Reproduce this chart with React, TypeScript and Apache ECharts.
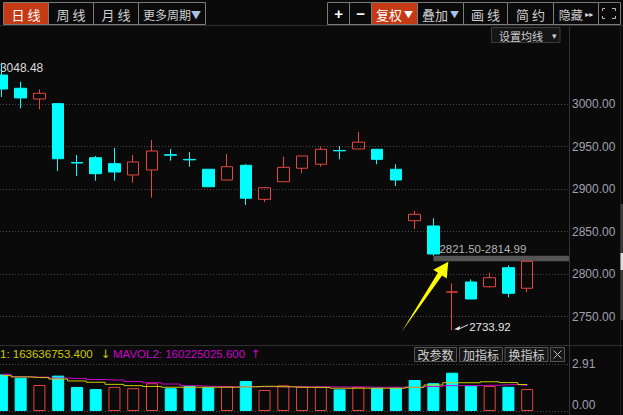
import React, { useEffect, useRef } from "react";
import * as echarts from "echarts";

// ---------- data ----------
const opens = [3034.1, 3018.5, 3005.9, 3000.4, 2931.2, 2936.8, 2929.8, 2916.5, 2922.4, 2940.3, 2934.8, 2923.2, 2910.6, 2927.9, 2887.9, 2908.6, 2924.4, 2929.1, 2945.3, 2947.1, 2946.7, 2923.2, 2862.7, 2856.5, 2778.6, 2790.6, 2785.0, 2807.4, 2783.2];
const closes = [3017.6, 3007.1, 3012.6, 2935.6, 2930.6, 2918.0, 2920.0, 2931.8, 2944.7, 2939.8, 2934.3, 2902.7, 2926.2, 2889.1, 2901.5, 2925.5, 2938.8, 2946.7, 2944.9, 2955.1, 2934.9, 2910.6, 2870.2, 2823.5, 2779.0, 2770.6, 2795.6, 2777.3, 2814.99];
const lows = [3008.2, 2994.9, 2993.8, 2921.2, 2915.3, 2909.8, 2909.8, 2907.4, 2889.8, 2933.3, 2926.2, 2902.5, 2910.2, 2881.2, 2884.7, 2908.3, 2918.5, 2926.2, 2934.9, 2946.8, 2929.1, 2903.5, 2852.9, 2821.5, 2733.92, 2770.4, 2784.0, 2772.6, 2778.5];
const highs = [3048.48, 3026.2, 3017.3, 3000.9, 2940.0, 2938.8, 2948.2, 2940.0, 2957.6, 2947.1, 2943.5, 2923.5, 2941.2, 2929.1, 2902.0, 2938.0, 2939.2, 2949.8, 2950.6, 2967.1, 2947.0, 2929.1, 2874.1, 2865.5, 2789.0, 2793.8, 2801.5, 2810.2, 2814.99];
// volume in 亿 (1e8)
const volumes = [2.27, 2.06, 1.61, 2.19, 1.49, 1.36, 1.49, 1.41, 1.72, 1.41, 1.55, 1.47, 1.55, 1.86, 1.30, 1.59, 1.50, 1.50, 1.34, 1.50, 1.44, 1.44, 1.92, 1.72, 2.37, 1.57, 1.55, 1.50, 1.36];
const mavol1 = [2.19, 2.11, 2.07, 1.98, 1.86, 1.78, 1.65, 1.57, 1.52, 1.47, 1.47, 1.47, 1.47, 1.50, 1.53, 1.50, 1.47, 1.46, 1.41, 1.41, 1.41, 1.41, 1.47, 1.61, 1.75, 1.75, 1.81, 1.76, 1.64];
const mavol2 = [2.27, 2.12, 2.10, 2.04, 2.01, 1.95, 1.92, 1.83, 1.75, 1.67, 1.57, 1.53, 1.50, 1.50, 1.50, 1.50, 1.50, 1.50, 1.49, 1.49, 1.47, 1.47, 1.46, 1.52, 1.57, 1.57, 1.59, 1.63, 1.60];
const mavolHeader = [163636753.4, 160225025.6];
const slots = ["s0", "s1", "s2", "s3", "s4", "s5", "s6", "s7", "s8", "s9", "s10", "s11", "s12", "s13", "s14", "s15", "s16", "s17", "s18", "s19", "s20", "s21", "s22", "s23", "s24", "s25", "s26", "s27", "s28", "s29", "s30"];
const priceMin = 2700;
const priceMax = 3050;
const priceStep = 50;
const volMax = 2.91;
const gapRange = [2821.5, 2814.99];
const gapStartIndex = 23;
const leftButtons = ["日 线", "周 线", "月 线", "更多周期"];
const rightButtons = ["+", "−", "复权", "叠加", "画 线", "简 约", "隐藏"];
const indicatorButtons = ["改参数", "加指标", "换指标"];

// ---------- layout / style ----------
const W = 623;
const H = 415;
const STEP = 18.76;
const X0 = 1.9;
const AXIS_X = 569;
const PRICE_TOP = 61.5;
const PRICE_H = 297.5;
const BG = "#0a0a0a";
const UP = "#e5463f";
const DOWN = "#00ffff";
const FONT_CJK = '"Noto Sans CJK SC", "Noto Sans", sans-serif';
const FONT_NUM = '"Liberation Sans", Arial, sans-serif';
const LABEL_C = "#a0a0b0";

function buildGraphic() {
  const g: any[] = [];
  const rect = (x: number, y: number, w: number, h: number, fill: string, stroke: string) =>
    g.push({ type: "rect", z: 100, shape: { x, y, width: w, height: h }, style: { fill, stroke, lineWidth: 1 } });
  const line = (x1: number, y1: number, x2: number, y2: number, stroke: string) =>
    g.push({ type: "line", z: 100, shape: { x1, y1, x2, y2 }, style: { stroke, lineWidth: 1 } });
  const text = (x: number, y: number, t: string, fill: string, size: number, family: string, align = "center", extra: any = {}) =>
    g.push({ type: "text", z: 101, x, y, style: { text: t, fill, fontSize: size, fontFamily: family, align, verticalAlign: "middle", ...extra } });

  // frame lines
  line(0, 25.5, W, 25.5, "#2e2e2e");
  line(AXIS_X + 0.5, 26, AXIS_X + 0.5, H, "#333333");
  line(620.5, 26, 620.5, H, "#1e1e1e");
  line(0, 345.5, W, 345.5, "#2e2e2e");
  rect(620.5, 204, 3, 116, "#3a3a3a", "none");
  rect(620.5, 253, 3, 17, "#dddddd", "none");

  // left toolbar
  const lx = [3.5, 48.5, 93.5, 138.5, 205.5];
  leftButtons.forEach((b, i) => {
    const x = lx[i];
    const w = lx[i + 1] - x;
    const active = i === 0;
    rect(x, 2.5, w, 22, active ? "#c43a14" : BG, "#7b7b7b");
    if (i === 3) {
      g.push({
        type: "text", z: 101, x: x + w / 2, y: 14,
        style: {
          text: "{a|" + b + "}{b|▼}", align: "center", verticalAlign: "middle",
          rich: { a: { fontSize: 12, fill: "#cfcfcf", fontFamily: FONT_CJK }, b: { fontSize: 10, fill: "#a9c1e8", fontFamily: FONT_CJK } },
        },
      });
    } else {
      text(x + w / 2, 14, b, active ? "#ffffff" : "#cfcfcf", 13, FONT_CJK);
    }
  });

  // right toolbar
  const rx = [327.5, 349.5, 371.5, 417.5, 463.5, 507.5, 553.5, 598.5, 620.5];
  rightButtons.forEach((b, i) => {
    const x = rx[i];
    const w = rx[i + 1] - x;
    const active = i === 2;
    rect(x, 2.5, w, 22, active ? "#c43a14" : BG, "#7b7b7b");
    if (i === 0 || i === 1) {
      text(x + w / 2, 13.5, b, "#ffffff", 15, FONT_NUM, "center", { fontWeight: "bold" });
    } else if (i === 2 || i === 3) {
      g.push({
        type: "text", z: 101, x: x + w / 2, y: 14,
        style: {
          text: "{a|" + b + "}{b| ▼}", align: "center", verticalAlign: "middle",
          rich: { a: { fontSize: 13, fill: active ? "#ffffff" : "#cfcfcf", fontFamily: FONT_CJK }, b: { fontSize: 9, fill: active ? "#ffffff" : "#a9c1e8", fontFamily: FONT_CJK } },
        },
      });
    } else if (i === 6) {
      g.push({
        type: "text", z: 101, x: x + w / 2, y: 14,
        style: {
          text: "{a|" + b + "}{b| ▸▸}", align: "center", verticalAlign: "middle",
          rich: { a: { fontSize: 12, fill: "#cfcfcf", fontFamily: FONT_CJK }, b: { fontSize: 8, fill: "#dcdcdc", fontFamily: '"DejaVu Sans", sans-serif' } },
        },
      });
    } else {
      text(x + w / 2, 14, b, "#cfcfcf", 13, FONT_CJK);
    }
  });
  // fullscreen icon
  rect(598.5, 2.5, 22, 22, BG, "#7b7b7b");
  const corners = [
    [[602.5, 11], [602.5, 8.5], [605, 8.5]],
    [[612, 8.5], [615.5, 8.5], [615.5, 11]],
    [[602.5, 16], [602.5, 18.5], [605, 18.5]],
    [[612, 18.5], [615.5, 18.5], [615.5, 16]],
  ];
  corners.forEach((pts) => g.push({ type: "polyline", z: 101, shape: { points: pts }, style: { stroke: "#bdbdbd", lineWidth: 1, fill: "none" } }));

  // 设置均线
  rect(491.5, 27.5, 68.5, 15, "#151515", "#3c3c3c");
  text(499, 35.5, "设置均线", "#cfcfcf", 11, FONT_CJK, "left");
  text(554, 35, "▾", "#cfcfcf", 9, FONT_CJK, "center");

  // volume header
  text(0, 353.5, "1: " + mavolHeader[0].toFixed(3), "#cccc00", 11.5, FONT_NUM, "left");
  text(101, 353.5, "↓", "#cccc00", 11.5, '"DejaVu Sans", sans-serif', "left");
  text(113, 353.5, "MAVOL2: " + mavolHeader[1].toFixed(3), "#cc00cc", 11.5, FONT_NUM, "left");
  text(251, 353.5, "↑", "#cc00cc", 11.5, '"DejaVu Sans", sans-serif', "left");

  // indicator buttons
  const ix = [414.5, 459.5, 505];
  const iw = [42, 43, 43];
  indicatorButtons.forEach((b, i) => {
    rect(ix[i], 347.5, iw[i], 14, "#161616", "#555555");
    text(ix[i] + iw[i] / 2, 354.8, b, "#cfcfcf", 12, FONT_CJK);
  });
  rect(550.5, 347.5, 14, 14, "#161616", "#555555");
  line(553.5, 350.5, 561.5, 358.5, "#bdbdbd");
  line(561.5, 350.5, 553.5, 358.5, "#bdbdbd");

  // yellow arrow annotation
  g.push({
    type: "polygon", z: 102,
    shape: { points: [[448.3, 261.7], [446.7, 278.6], [442.1, 275.6], [401.7, 331.7], [437.9, 272.8], [433.3, 269.8]] },
    style: { fill: "#ffff00" },
  });
  return g;
}

export default function App() {
  const ref = useRef<HTMLDivElement>(null);
  useEffect(() => {
    if (!ref.current) return;
    const chart = echarts.init(ref.current, null, { renderer: "svg", width: W, height: H });

    const hiIdx = highs.reduce((b, v, i) => (v > highs[b] ? i : b), 0);
    const loIdx = lows.reduce((b, v, i) => (v < lows[b] ? i : b), 0);
    const idxMin = (0 - X0) / STEP;
    const idxMax = (AXIS_X - X0) / STEP;
    const gridLeft = X0 - STEP / 2;
    const gridW = slots.length * STEP;

    const volData = volumes.map((v, i) => {
      const up = i === 0 ? closes[i] > opens[i] : closes[i] > closes[i - 1];
      return {
        value: v,
        itemStyle: up
          ? { color: "rgba(0,0,0,0)", borderColor: UP, borderWidth: 1 }
          : { color: DOWN, borderColor: DOWN, borderWidth: 1 },
      };
    });

    const splitStyle = { color: "#4a4a4a", type: [1, 2] as any, width: 1 };
    const hidden = { show: false };

    const option: any = {
      animation: false,
      backgroundColor: BG,
      grid: [
        { left: gridLeft, top: PRICE_TOP, width: gridW, height: PRICE_H, outerBoundsMode: "none" },
        { left: 0, top: PRICE_TOP, width: AXIS_X, height: PRICE_H, outerBoundsMode: "none" },
        { left: gridLeft, top: 364, width: gridW, height: 47, outerBoundsMode: "none" },
        { left: 0, top: 364, width: AXIS_X, height: 47, outerBoundsMode: "none" },
        { left: 0, top: 364, width: AXIS_X, height: 47, outerBoundsMode: "none" },
      ],
      xAxis: [
        { type: "category", gridIndex: 0, data: slots, ...hidden },
        { type: "value", gridIndex: 1, min: idxMin, max: idxMax, ...hidden },
        { type: "category", gridIndex: 2, data: slots, ...hidden },
        { type: "value", gridIndex: 3, min: 0, max: 1, ...hidden },
        { type: "value", gridIndex: 4, min: 0, max: 1, ...hidden },
      ],
      yAxis: [
        { type: "value", gridIndex: 0, min: priceMin, max: priceMax, ...hidden },
        {
          type: "value", gridIndex: 1, position: "right", min: priceMin, max: priceMax, interval: priceStep,
          axisLine: { show: false }, axisTick: { show: false },
          axisLabel: {
            color: LABEL_C, fontSize: 12, fontFamily: FONT_NUM, margin: 3,
            showMinLabel: false, showMaxLabel: false,
            formatter: (v: number) => v.toFixed(2),
          },
          splitLine: { show: true, showMinLine: false, showMaxLine: false, lineStyle: splitStyle },
        },
        { type: "value", gridIndex: 2, min: 0, max: volMax, ...hidden },
        {
          type: "value", gridIndex: 3, position: "right", min: 0, max: volMax, interval: volMax,
          axisLine: { show: false }, axisTick: { show: false },
          axisLabel: { color: LABEL_C, fontSize: 12, fontFamily: FONT_NUM, margin: 3, showMinLabel: false, formatter: (v: number) => v.toFixed(2) },
          splitLine: { show: true, lineStyle: splitStyle },
        },
        {
          type: "value", gridIndex: 4, position: "right", min: 0, max: volMax, interval: volMax,
          axisLine: { show: false }, axisTick: { show: false },
          axisLabel: { color: LABEL_C, fontSize: 12, fontFamily: FONT_NUM, margin: 3, showMaxLabel: false, verticalAlign: "bottom", formatter: (v: number) => v.toFixed(2) },
          splitLine: { show: false },
        },
      ],
      series: [
        {
          type: "candlestick", xAxisIndex: 0, yAxisIndex: 0, barWidth: 12, clip: false,
          data: opens.map((o, i) => [o, closes[i], lows[i], highs[i]]),
          itemStyle: { color: "rgba(0,0,0,0)", color0: DOWN, borderColor: UP, borderColor0: DOWN, borderWidth: 1 },
          markPoint: {
            silent: true, animation: false,
            data: [
              {
                coord: [hiIdx, highs[hiIdx]], symbol: "circle", symbolSize: 1, itemStyle: { color: "rgba(0,0,0,0)" },
                label: { show: true, position: "right", distance: 0, offset: [-2.5, 5], formatter: highs[hiIdx].toFixed(2), color: "#dcdcdc", fontSize: 12, fontFamily: FONT_NUM },
              },
              {
                coord: [loIdx, lows[loIdx]], symbol: "path://M0,5L6,2L5,6Z M4,4.6L14,0.2L14,1.2L4,5.6Z", symbolSize: [14, 6], symbolOffset: [9, -3],
                itemStyle: { color: "#e6e6e6" },
                label: { show: true, position: "right", distance: 1, formatter: lows[loIdx].toFixed(2), color: "#e6e6e6", fontSize: 11.5, fontFamily: FONT_NUM },
              },
            ],
          },
        },
        {
          type: "line", xAxisIndex: 1, yAxisIndex: 1, data: [[gapStartIndex, gapRange[0]]],
          showSymbol: false, symbol: "none", lineStyle: { opacity: 0 }, silent: true,
          markArea: {
            silent: true,
            itemStyle: { color: "#555555" },
            label: {
              show: true, position: [6, -13], align: "left", verticalAlign: "top",
              formatter: gapRange[0].toFixed(2) + "-" + gapRange[1].toFixed(2),
              color: "#b4b4b4", fontSize: 11.5, fontFamily: FONT_NUM,
            },
            data: [[{ coord: [gapStartIndex, gapRange[0]] }, { coord: [idxMax, gapRange[1]] }]],
          },
        },
        { type: "bar", xAxisIndex: 2, yAxisIndex: 2, barWidth: 12, data: volData },
        {
          type: "line", xAxisIndex: 2, yAxisIndex: 2, data: mavol1, step: "middle", symbol: "none",
          lineStyle: { color: "#cccc00", width: 1 }, z: 5,
        },
        {
          type: "line", xAxisIndex: 2, yAxisIndex: 2, data: mavol2, step: "middle", symbol: "none",
          lineStyle: { color: "#cc00cc", width: 1 }, z: 4,
        },
      ],
      graphic: { elements: buildGraphic() },
    };
    chart.setOption(option);
    return () => chart.dispose();
  }, []);

  return (
    <div
      ref={ref}
      style={{ position: "fixed", left: 0, top: 0, width: W, height: H, background: BG, overflow: "hidden" }}
    />
  );
}
